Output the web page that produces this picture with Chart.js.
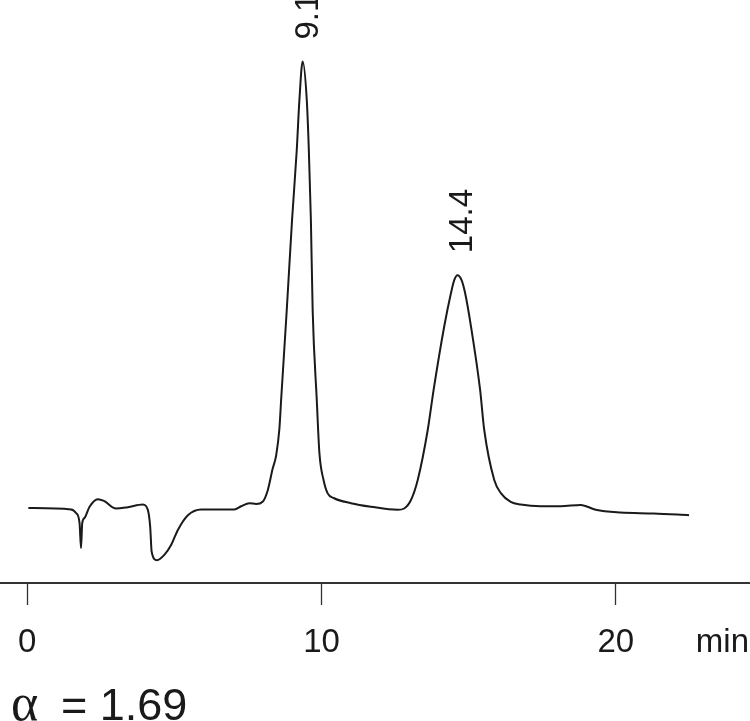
<!DOCTYPE html>
<html>
<head>
<meta charset="utf-8">
<script src="https://cdn.jsdelivr.net/npm/chart.js@4"></script>
<style>
  html, body { margin: 0; padding: 0; background: #fff; }
  #wrap { width: 750px; height: 721px; position: relative; }
</style>
</head>
<body>
<div id="wrap"><canvas id="chrom"></canvas></div>
<script>
// retention time (min) and detector signal (relative, 9.1 peak = 100)
var times = [0.04, 1.49, 1.66, 1.78, 1.83, 1.87, 1.95, 2.12, 2.40, 2.61,
  3.02, 3.42, 3.93, 4.10, 4.18, 4.23, 4.41, 4.66, 4.89, 5.12,
  5.46, 5.91, 7.04, 7.27, 7.55, 7.78, 8.00, 8.17, 8.34, 8.46,
  8.57, 8.63, 8.82, 9.00, 9.16, 9.25, 9.36, 9.50, 9.57, 9.64,
  9.70, 9.84, 9.93, 10.07, 10.21, 10.43, 11.00, 11.68, 12.59, 12.81,
  13.04, 13.27, 13.61, 13.81, 14.17, 14.40, 14.51, 14.62, 14.76, 14.88,
  15.08, 15.39, 15.53, 15.87, 16.10, 16.43, 16.77, 17.45, 18.13, 18.81,
  19.32, 20.16, 21.29, 22.49];
var signal = [0.0, -0.3, -1.1, -3.4, -9.0, -3.4, -2.2, 0.3, 2.0, 1.6,
  -0.1, 0.2, 0.8, -0.4, -4.2, -9.8, -11.7, -10.5, -8.3, -4.9,
  -1.6, -0.3, -0.3, 0.4, 1.1, 0.9, 1.4, 3.9, 8.8, 11.8,
  17.8, 24.4, 44.4, 64.6, 80.3, 91.5, 100.1, 91.5, 80.3, 64.6,
  44.4, 24.2, 12.3, 6.3, 3.3, 2.2, 1.1, 0.3, -0.4, -0.1,
  1.8, 6.3, 17.5, 26.5, 40.7, 48.2, 51.1, 52.2, 51.1, 48.2,
  40.7, 26.5, 17.5, 6.3, 3.3, 1.4, 0.8, 0.4, 0.4, 0.7,
  -0.4, -1.0, -1.2, -1.6];

var xTicks = [0, 10, 20];
var peakTimes = [9.36, 14.62];
var peakLabels = ['9.1', '14.4'];
var unitLabel = 'min';
var alphaSymbol = '\u03b1';
var alphaValue = '= 1.69';

var font = '"Liberation Sans", Arial, sans-serif';

var points = times.map(function(t, i) { return { x: t, y: signal[i] }; });

var annotate = {
  id: 'annotate',
  afterDraw: function(chart) {
    var ctx = chart.ctx;
    var xs = chart.scales.x, ys = chart.scales.y;
    ctx.save();
    ctx.fillStyle = '#1a1a1a';
    ctx.font = '33px ' + font;
    // peak labels, rotated
    peakTimes.forEach(function(t, i) {
      var idx = times.indexOf(t);
      var px = xs.getPixelForValue(t);
      var py = ys.getPixelForValue(signal[idx]);
      ctx.save();
      ctx.translate(px + 15, py - 22);
      ctx.rotate(-Math.PI / 2);
      ctx.textAlign = 'left';
      ctx.textBaseline = 'alphabetic';
      ctx.fillText(peakLabels[i], 0, 0);
      ctx.restore();
    });
    // axis unit
    ctx.textAlign = 'right';
    ctx.textBaseline = 'alphabetic';
    ctx.fillText(unitLabel, chart.chartArea.right - 1, 652);
    // selectivity
    ctx.textAlign = 'left';
    ctx.font = '52px "Liberation Serif", serif';
    ctx.fillText(alphaSymbol, 11, 720);
    ctx.font = '45px ' + font;
    ctx.fillText(alphaValue, 61, 720);
    ctx.restore();
  }
};

new Chart(document.getElementById('chrom'), {
  type: 'line',
  data: {
    datasets: [{
      data: points,
      borderColor: '#1a1a1a',
      borderWidth: 2,
      pointRadius: 0,
      fill: false,
      cubicInterpolationMode: 'monotone'
    }]
  },
  options: {
    responsive: true,
    maintainAspectRatio: false,
    animation: false,
    layout: { padding: 0 },
    plugins: { legend: { display: false }, tooltip: { enabled: false } },
    scales: {
      x: {
        type: 'linear',
        min: -0.9,
        max: 24.56,
        afterBuildTicks: function(scale) {
          scale.ticks = xTicks.map(function(v) { return { value: v }; });
        },
        afterFit: function(scale) { scale.height = 138; },
        grid: {
          drawOnChartArea: false,
          drawTicks: true,
          tickLength: 22,
          tickWidth: 1.3,
          tickColor: '#333'
        },
        border: { display: true, color: '#333', width: 2 },
        ticks: {
          autoSkip: false,
          maxRotation: 0,
          padding: 18,
          color: '#1a1a1a',
          font: { family: font, size: 33 }
        }
      },
      y: {
        display: false,
        min: -16.8,
        max: 113.9
      }
    }
  },
  plugins: [annotate]
});
</script>
</body>
</html>
